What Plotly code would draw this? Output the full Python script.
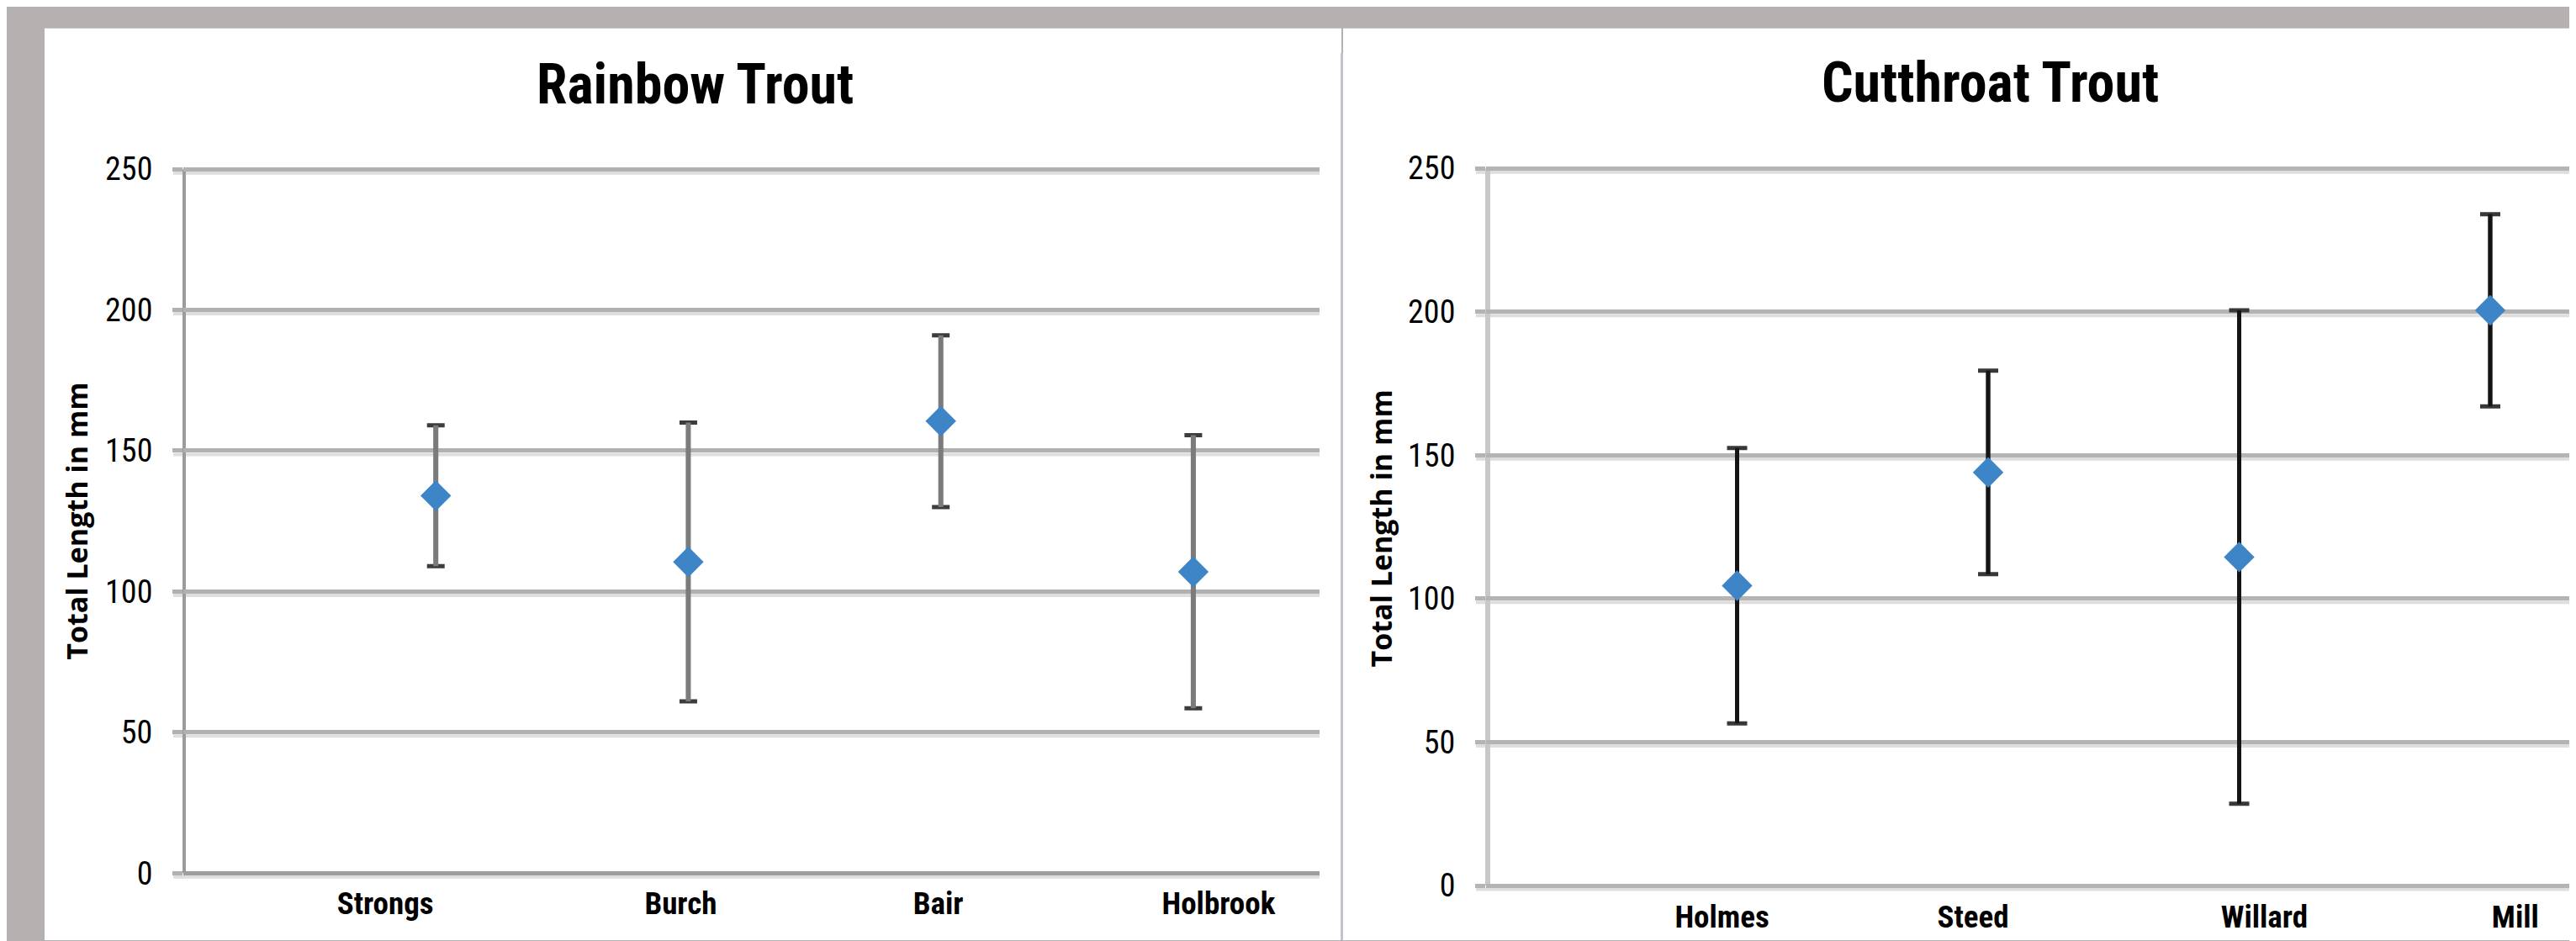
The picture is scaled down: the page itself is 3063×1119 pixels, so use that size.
import plotly.graph_objects as go

# ---------------- data ----------------
rainbow_sites = ["Strongs", "Burch", "Bair", "Holbrook"]
rainbow_mean = [134, 110.5, 160.5, 107]
rainbow_err = [25, 49.5, 30.5, 48.5]

cutthroat_sites = ["Holmes", "Steed", "Willard", "Mill"]
cutthroat_mean = [104.5, 144, 114.5, 200.5]
cutthroat_err = [48, 35.5, 86, 33.5]

y_ticks = [0, 50, 100, 150, 200, 250]
titles = ["Rainbow Trout", "Cutthroat Trout"]
y_title = "Total Length in mm"

# category label positions along the x axis (layout, not data)
rainbow_label_x = [0.80, 1.97, 2.99, 4.10]
cutthroat_label_x = [0.94, 1.94, 3.10, 4.10]

# ---------------- layout geometry (pixels) ----------------
W, H = 3063, 1119


def fx(px):
    return px / W


def fy(py):
    return 1 - py / H


PAD = 4  # value units of padding above/below the 0..250 range


def ydomain(y0px, ytop_px, vmax=250):
    ppu = (y0px - ytop_px) / vmax
    return [fy(y0px + PAD * ppu), fy(ytop_px - PAD * ppu)]


FONT_N = "Liberation Sans Narrow, Arial Narrow, Roboto Condensed, Liberation Sans, sans-serif"
FONT_T = "Open Sans, Liberation Sans, sans-serif"
MARKER = "#3d85c6"

fig = go.Figure()


def add_panel(names, means, errs, xa, ya, stem_color, stem_w, cap_color, cap_w, cap_half):
    xs = [i + 1 for i in range(len(names))]
    # caps (dark)
    fig.add_trace(go.Scatter(
        x=xs, y=means, mode="markers", xaxis=xa, yaxis=ya,
        marker=dict(color="rgba(0,0,0,0)", size=1),
        error_y=dict(type="data", array=errs, visible=True, color=cap_color,
                     thickness=cap_w, width=cap_half),
        hoverinfo="skip", showlegend=False))
    # stems
    fig.add_trace(go.Scatter(
        x=xs, y=means, mode="markers", xaxis=xa, yaxis=ya,
        marker=dict(color="rgba(0,0,0,0)", size=1),
        error_y=dict(type="data", array=errs, visible=True, color=stem_color,
                     thickness=stem_w, width=0),
        hoverinfo="skip", showlegend=False))
    # markers
    fig.add_trace(go.Scatter(
        x=xs, y=means, mode="markers", xaxis=xa, yaxis=ya,
        marker=dict(symbol="diamond", color=MARKER, size=28, line=dict(width=0)),
        text=names, showlegend=False))


add_panel(rainbow_sites, rainbow_mean, rainbow_err, "x", "y",
          "#7b7b7b", 6, "#3c3c3c", 5, 10.5)
add_panel(cutthroat_sites, cutthroat_mean, cutthroat_err, "x2", "y2",
          "#141414", 5, "#383838", 5, 12)

# axes
L_X0, L_X1 = 210, 1561
R_X0, R_X1 = 1759, 3063
R_UNIT = 298.5

yaxis_common = dict(
    range=[-PAD, 250 + PAD], tickvals=y_ticks, showgrid=True, gridwidth=5,
    zeroline=True, zerolinewidth=5, showline=False,
    ticks="outside", ticklen=12, tickwidth=5,
    tickfont=dict(family=FONT_N, size=38, color="#000000"),
    ticklabelstandoff=16, fixedrange=True,
)
xaxis_common = dict(
    showgrid=False, zeroline=False, showline=False, ticks="",
    tickfont=dict(family=FONT_N, size=37, color="#000000", weight="bold"),
    fixedrange=True,
)

fig.update_layout(
    xaxis=dict(domain=[fx(L_X0), fx(L_X1)], range=[0, 4.5], anchor="y",
               tickvals=rainbow_label_x, ticktext=rainbow_sites,
               ticklabelstandoff=-3, **xaxis_common),
    yaxis=dict(domain=ydomain(1038, 188), anchor="x", gridcolor="#b1b1b1",
               tickcolor="#b1b1b1", zerolinecolor="#9f9f9f", **yaxis_common),
    xaxis2=dict(domain=[fx(R_X0), 1.0], range=[0, (R_X1 - R_X0) / R_UNIT], anchor="y2",
                tickvals=cutthroat_label_x, ticktext=cutthroat_sites,
                ticklabelstandoff=-2, **xaxis_common),
    yaxis2=dict(domain=ydomain(1053, 187), anchor="x2", gridcolor="#b4b4b4",
                tickcolor="#b4b4b4", zerolinecolor="#b4b4b4", **yaxis_common),
)

shapes = [
    # white panels
    dict(type="rect", xref="paper", yref="paper", x0=fx(45), x1=fx(1587), y0=0, y1=fy(18),
         fillcolor="#ffffff", line=dict(width=0), layer="below"),
    dict(type="rect", xref="paper", yref="paper", x0=fx(1589), x1=1, y0=0, y1=fy(18),
         fillcolor="#ffffff", line=dict(width=0), layer="below"),
    # divider
    dict(type="line", xref="paper", yref="paper", x0=fx(1587.5), x1=fx(1587.5), y0=0, y1=fy(48),
         line=dict(color="#c4c1cc", width=3), layer="below"),
]

# grid shadows and vertical axis lines
for xa, ya, x0px, x1px, ax_color, ax_w, ax_off in [
    ("x", "y", L_X0, L_X1, "#9b9b9b", 4, 1),
    ("x2", "y2", R_X0, R_X1, "#c8c8c8", 6, 2),
]:
    span = x1px - x0px
    for t in y_ticks:
        shapes.append(dict(type="rect", xref=xa + " domain", yref=ya, ysizemode="pixel",
                           yanchor=t, y0=-2.5, y1=-6.5, x0=-12 / span, x1=1,
                           fillcolor="#dedede", line=dict(width=0), layer="below"))
    shapes.append(dict(type="line", xref=xa + " domain", yref=ya,
                       x0=ax_off / span, x1=ax_off / span,
                       y0=y_ticks[0], y1=y_ticks[-1],
                       line=dict(color=ax_color, width=ax_w), layer="below"))

annotations = [
    dict(text=titles[0], x=fx(818), y=fy(86), xref="paper", yref="paper", showarrow=False,
         xanchor="center", yanchor="middle",
         font=dict(family=FONT_N, size=66, color="#000000", weight="bold")),
    dict(text=titles[1], x=fx(2358), y=fy(84), xref="paper", yref="paper", showarrow=False,
         xanchor="center", yanchor="middle",
         font=dict(family=FONT_N, size=66, color="#000000", weight="bold")),
    dict(text=y_title, x=fx(83), y=fy(613), xref="paper", yref="paper", showarrow=False,
         textangle=-90, xanchor="center", yanchor="middle",
         font=dict(family=FONT_T, size=34, color="#000000", weight="bold")),
    dict(text=y_title, x=fx(1634), y=fy(622), xref="paper", yref="paper", showarrow=False,
         textangle=-90, xanchor="center", yanchor="middle",
         font=dict(family=FONT_T, size=34, color="#000000", weight="bold")),
]

fig.update_layout(
    width=W, height=H, margin=dict(l=0, r=0, t=0, b=0),
    paper_bgcolor="#b5b1b1", plot_bgcolor="rgba(0,0,0,0)",
    shapes=shapes, annotations=annotations, showlegend=False,
    hovermode="closest",
)

fig.write_html("out.html")
